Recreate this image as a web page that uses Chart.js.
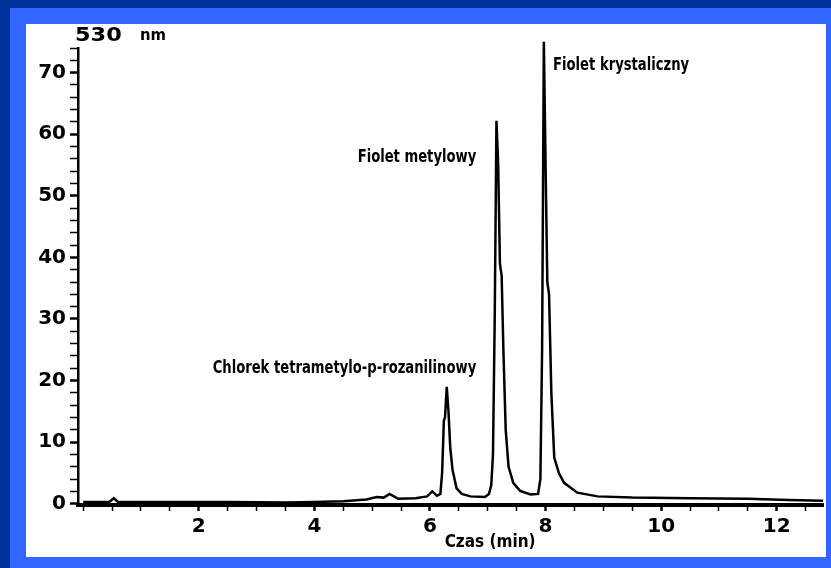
<!DOCTYPE html>
<html>
<head>
<meta charset="utf-8">
<script src="https://cdn.jsdelivr.net/npm/chart.js@4/dist/chart.umd.min.js"></script>
<style>
  html, body { margin: 0; padding: 0; }
  body { width: 831px; height: 568px; background: #003399; position: relative; overflow: hidden; }
  #frame { position: absolute; left: 10px; top: 8px; width: 821px; height: 560px; background: #3366ff; }
  #paper { position: absolute; left: 26px; top: 24px; width: 800px; height: 533px; background: #ffffff; }
  #chromatogram { position: absolute; left: 0; top: 0; }
</style>
</head>
<body>
<div id="frame"></div>
<div id="paper"></div>
<canvas id="chromatogram" width="831" height="568"></canvas>
<script>
// retention time (min) and absorbance at 530 nm
const times = [0.0, 0.45, 0.53, 0.6, 1.5, 2.5, 3.5, 4.0, 4.5, 4.9, 5.08, 5.2, 5.3, 5.45, 5.75, 5.95, 6.04, 6.12,
  6.18, 6.21, 6.24, 6.26, 6.29, 6.32, 6.35, 6.39, 6.46, 6.55, 6.7, 6.95, 7.02, 7.06, 7.09, 7.12, 7.15, 7.18,
  7.21, 7.24, 7.27, 7.31, 7.36, 7.44, 7.56, 7.74, 7.87, 7.91, 7.94, 7.97, 8.0, 8.03, 8.06, 8.1, 8.15, 8.23,
  8.32, 8.55, 8.9, 9.5, 10.5, 11.5, 12.2, 12.8];
const signal = [0.3, 0.3, 0.9, 0.3, 0.3, 0.3, 0.2, 0.3, 0.4, 0.7, 1.1, 1.0, 1.6, 0.8, 0.9, 1.2, 2.0, 1.3,
  1.6, 5, 13.5, 14, 19, 15, 9.2, 5.5, 2.5, 1.6, 1.2, 1.1, 1.6, 3, 8, 30, 62.2, 55,
  39, 37, 25, 12, 6, 3.4, 2.1, 1.5, 1.6, 4, 25, 75, 55, 36, 34, 18, 7.5, 5,
  3.4, 1.8, 1.2, 1.0, 0.9, 0.8, 0.6, 0.5];

// axis ticks
const xLabelTicks = [2, 4, 6, 8, 10, 12];
const xMinorStep = 0.5;
const yLabelTicks = [0, 10, 20, 30, 40, 50, 60, 70];
const yMinorStep = 2;

// peak names and where they sit (data units)
const peakNames = ['Chlorek tetrametylo-p-rozanilinowy', 'Fiolet metylowy', 'Fiolet krystaliczny'];
const peakLabelX = [6.8, 6.8, 8.13];
const peakLabelY = [21.9, 56.2, 71.2];
const peakLabelAlign = ['right', 'right', 'left'];

const xTitle = 'Czas (min)';
const xTitleAt = 7.04;
const yUnitValue = '530';
const yUnitName = 'nm';

function stepTicks(max, step) {
  const out = [];
  for (let v = 0; v <= max + 1e-9; v += step) out.push({ value: Math.round(v * 100) / 100 });
  return out;
}

const boldFont = '"DejaVu Sans", sans-serif';
const narrowFont = '"DejaVu Sans Condensed", "DejaVu Sans", sans-serif';

// narrow bold text, squeezed sideways like the scanned labels
function squeezed(ctx, text, px, py, align, sx) {
  ctx.save();
  ctx.translate(px, py);
  ctx.scale(sx, 1);
  ctx.textAlign = align;
  ctx.fillText(text, 0, 0);
  ctx.restore();
}

const labels = {
  id: 'labels',
  afterDatasetsDraw(chart) {
    const { ctx, chartArea, scales: { x, y } } = chart;
    ctx.save();
    ctx.fillStyle = '#000';
    ctx.textBaseline = 'middle';
    ctx.font = 'bold 17px ' + narrowFont;
    peakNames.forEach((name, i) => {
      squeezed(ctx, name, x.getPixelForValue(peakLabelX[i]), y.getPixelForValue(peakLabelY[i]), peakLabelAlign[i], 0.86);
    });
    ctx.font = 'bold 17px ' + narrowFont;
    squeezed(ctx, xTitle, x.getPixelForValue(xTitleAt), chartArea.bottom + 38, 'center', 1);
    ctx.textAlign = 'left';
    ctx.font = 'bold 20px ' + boldFont;
    squeezed(ctx, yUnitValue, chartArea.left - 3, chartArea.top - 12, 'left', 1.12);
    ctx.font = 'bold 15px ' + narrowFont;
    squeezed(ctx, yUnitName, chartArea.left + 62, chartArea.top - 12, 'left', 1.1);
    ctx.restore();
  }
};

new Chart(document.getElementById('chromatogram'), {
  type: 'line',
  data: {
    datasets: [{
      data: times.map((t, i) => ({ x: t, y: signal[i] })),
      borderColor: '#000',
      borderWidth: 2.5,
      pointRadius: 0,
      tension: 0,
      fill: false,
      clip: false,
    }],
  },
  options: {
    responsive: false,
    animation: false,
    devicePixelRatio: 1,
    layout: { padding: { top: 48, right: 8, left: 0, bottom: 0 } },
    plugins: { legend: { display: false }, tooltip: { enabled: false } },
    scales: {
      x: {
        type: 'linear',
        min: -0.09,
        max: 12.8,
        afterFit: (s) => { s.height = 63; },
        afterBuildTicks: (s) => { s.ticks = stepTicks(12.5, xMinorStep); },
        grid: { drawOnChartArea: false, tickLength: 6, tickColor: '#000',
          tickWidth: (c) => (xLabelTicks.includes(c.tick && c.tick.value) ? 2.5 : 1.5) },
        border: { color: '#000', width: 4 },
        ticks: {
          autoSkip: false,
          maxRotation: 0,
          padding: 4,
          color: '#000',
          font: { family: boldFont, size: 20, weight: 'bold' },
          callback: (v) => (xLabelTicks.includes(v) ? String(v) : ''),
        },
      },
      y: {
        min: -0.2,
        max: 74,
        afterFit: (s) => { s.width = 78; },
        afterBuildTicks: (s) => { s.ticks = stepTicks(74, yMinorStep); },
        grid: { drawOnChartArea: false, tickLength: 8, tickColor: '#000',
          tickWidth: (c) => (yLabelTicks.includes(c.tick && c.tick.value) ? 2.5 : 1.5) },
        border: { color: '#000', width: 2.5 },
        ticks: {
          autoSkip: false,
          padding: 4,
          color: '#000',
          font: { family: boldFont, size: 20, weight: 'bold' },
          callback: (v) => (yLabelTicks.includes(v) ? String(v) : ''),
        },
      },
    },
  },
  plugins: [labels],
});
</script>
</body>
</html>
